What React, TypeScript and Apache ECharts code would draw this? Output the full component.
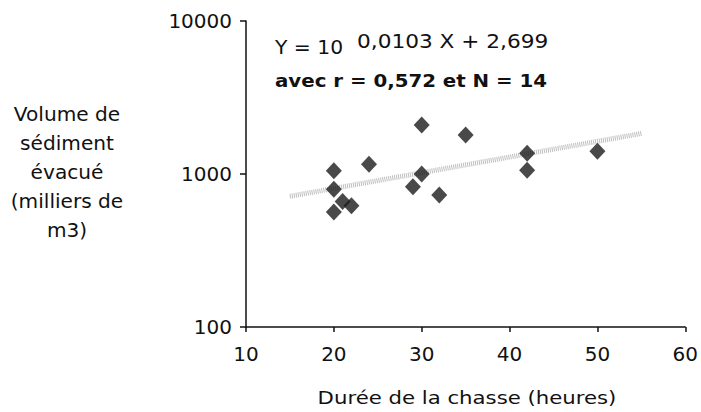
import React, { useEffect, useRef } from "react";
import * as echarts from "echarts";

const hours = [20, 20, 21, 20, 22, 24, 30, 30, 29, 32, 35, 42, 42, 50];
const volumes = [1050, 795, 660, 565, 620, 1160, 2090, 1000, 825, 730, 1800, 1365, 1060, 1410];
const trendX = [15, 55];
const trendY = [715, 1840];
const xTicks = [10, 20, 30, 40, 50, 60];
const yTicks = [100, 1000, 10000];
const yTitleLines = ["Volume de", "sédiment", "évacué", "(milliers de", "m3)"];
const eqMain = "Y = 10";
const eqExp = "0,0103 X + 2,699";
const eqStats = "avec r = 0,572 et N = 14";
const xTitle = "Durée de la chasse (heures)";

const FONT = "'DejaVu Sans', Verdana, sans-serif";

export default function App() {
  const ref = useRef<HTMLDivElement>(null);
  useEffect(() => {
    document.body.style.margin = "0";
    if (!ref.current) return;
    const chart = echarts.init(ref.current, null, { renderer: "svg" });
    const textBase = { fontFamily: FONT, fill: "#111" };
    chart.setOption({
      animation: false,
      backgroundColor: "#fff",
      grid: { left: 246, right: 15, top: 21, bottom: 85 },
      xAxis: {
        type: "value",
        min: xTicks[0],
        max: xTicks[xTicks.length - 1],
        interval: 10,
        splitLine: { show: false },
        axisLine: { lineStyle: { color: "#111", width: 1.5 } },
        axisTick: { show: true, length: 5, lineStyle: { color: "#111", width: 1.5 } },
        axisLabel: { color: "#111", fontFamily: FONT, fontSize: 20, margin: 17 },
      },
      yAxis: {
        type: "log",
        logBase: 10,
        min: yTicks[0],
        max: yTicks[yTicks.length - 1],
        splitLine: { show: false },
        minorTick: { show: false },
        axisLine: { lineStyle: { color: "#111", width: 1.5 } },
        axisTick: { show: true, length: 6, lineStyle: { color: "#111", width: 1.5 } },
        axisLabel: {
          color: "#111",
          fontFamily: FONT,
          fontSize: 20,
          margin: 14,
          formatter: (v: number) => String(Math.round(v)),
        },
      },
      series: [
        {
          type: "line",
          data: trendX.map((x, i) => [x, trendY[i]]),
          symbol: "none",
          lineStyle: { color: "#a8a8a8", width: 5, type: [1, 1], opacity: 0.75 },
          z: 1,
        },
        {
          type: "scatter",
          data: hours.map((h, i) => [h, volumes[i]]),
          symbol: "diamond",
          symbolSize: [16, 17],
          itemStyle: { color: "#1c1c1c" },
          z: 3,
        },
      ],
      graphic: [
        ...yTitleLines.map((t, i) => ({
          type: "text",
          x: 67,
          y: 115 + i * 29,
          scaleX: 1.06,
          style: { ...textBase, text: t, fontSize: 19, textAlign: "center", textVerticalAlign: "middle" },
        })),
        {
          type: "text",
          x: 275,
          y: 48,
          scaleX: 1.07,
          style: { ...textBase, text: eqMain, fontSize: 19, textVerticalAlign: "middle" },
        },
        {
          type: "text",
          x: 357,
          y: 41,
          scaleX: 1.14,
          style: { ...textBase, text: eqExp, fontSize: 19, textVerticalAlign: "middle" },
        },
        {
          type: "text",
          x: 275,
          y: 80,
          scaleX: 1.1,
          style: { ...textBase, text: eqStats, fontSize: 18, fontWeight: "bold", textVerticalAlign: "middle" },
        },
        {
          type: "text",
          x: 467,
          y: 398,
          scaleX: 1.18,
          style: { ...textBase, text: xTitle, fontSize: 18, textAlign: "center", textVerticalAlign: "middle" },
        },
      ],
    });
    return () => chart.dispose();
  }, []);
  return <div ref={ref} style={{ width: 701, height: 412 }} />;
}
